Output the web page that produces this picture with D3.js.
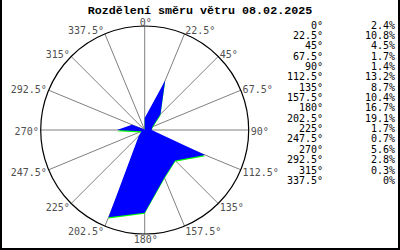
<!DOCTYPE html>
<html><head><meta charset="utf-8">
<script src="https://cdn.jsdelivr.net/npm/d3@7"></script>
<style>body{margin:0;background:#fff}svg{display:block}</style>
</head><body>
<script>
const title = "Rozdělení směru větru 08.02.2025";
const angles = [0, 22.5, 45, 67.5, 90, 112.5, 135, 157.5, 180, 202.5, 225, 247.5, 270, 292.5, 315, 337.5];
const angleLabels = ["0°","22.5°","45°","67.5°","90°","112.5°","135°","157.5°","180°","202.5°","225°","247.5°","270°","292.5°","315°","337.5°"];
const values = [2.4, 10.8, 4.5, 1.7, 1.4, 13.2, 8.7, 10.4, 16.7, 19.1, 1.7, 0.7, 5.6, 2.8, 0.3, 0];
const pctLabels = ["2.4%","10.8%","4.5%","1.7%","1.4%","13.2%","8.7%","10.4%","16.7%","19.1%","1.7%","0.7%","5.6%","2.8%","0.3%","0%"];

const W = 400, H = 250;
const cx = 144.7, cy = 130, R = 104;
const mono = "'DejaVu Sans Mono','Liberation Mono',monospace";

const svg = d3.select("body").append("svg").attr("width", W).attr("height", H);
svg.append("rect").attr("width", W).attr("height", H).attr("fill", "#fff");

// border (left, right, bottom)
svg.append("path").attr("d", `M1,0V249H399V0`).attr("fill", "none").attr("stroke", "#000").attr("stroke-width", 2);

svg.append("text").attr("x", 200).attr("y", 13.5).attr("text-anchor", "middle")
  .attr("font-family", "'Liberation Mono','DejaVu Sans Mono',monospace").attr("font-weight", "bold")
  .attr("font-size", 11.7).attr("fill", "#000").text(title);

const rScale = d3.scaleLinear().domain([0, d3.max(values) * 1.1]).range([0, R]);
const g = svg.append("g").attr("transform", `translate(${cx},${cy})`);
const rad = a => a * Math.PI / 180;

// spokes
g.selectAll("line.spoke").data(angles).join("line")
  .attr("x1", 0).attr("y1", 0)
  .attr("x2", a => R * Math.sin(rad(a))).attr("y2", a => -R * Math.cos(rad(a)))
  .attr("stroke", "#808080").attr("stroke-width", 1);

g.append("circle").attr("r", R).attr("fill", "none").attr("stroke", "#000").attr("stroke-width", 1.2);

// rose polygon
const line = d3.lineRadial().angle((d, i) => rad(angles[i])).radius(d => rScale(d)).curve(d3.curveLinearClosed);
g.append("path").attr("d", line(values)).attr("fill", "#00ff00").attr("transform", "translate(0,1.2)");
g.append("path").attr("d", line(values)).attr("fill", "#0000ff");

// angle labels
g.selectAll("text.lab").data(angles).join("text")
  .attr("font-family", mono).attr("font-size", 10).attr("fill", "#505050")
  .attr("text-anchor", a => { const s = Math.sin(rad(a)); return Math.abs(s) < 0.01 ? "middle" : (s > 0 ? "start" : "end"); })
  .attr("x", a => { const s = Math.sin(rad(a)); return Math.abs(s) < 0.01 ? 1 : (R + 2) * s; })
  .attr("y", a => 1 - (R + 4.5) * Math.cos(rad(a)) + 3.5)
  .text((a, i) => angleLabels[i]);

// legend
const leg = svg.append("g").attr("font-family", mono).attr("font-size", 10).attr("fill", "#000");
leg.selectAll("text.a").data(angleLabels).join("text")
  .attr("x", 323).attr("y", (d, i) => 25 + i * 10.36 + 3.5).attr("text-anchor", "end").text(d => d);
leg.selectAll("text.p").data(pctLabels).join("text")
  .attr("x", 395).attr("y", (d, i) => 25 + i * 10.36 + 3.5).attr("text-anchor", "end").text(d => d);
</script>
</body></html>
